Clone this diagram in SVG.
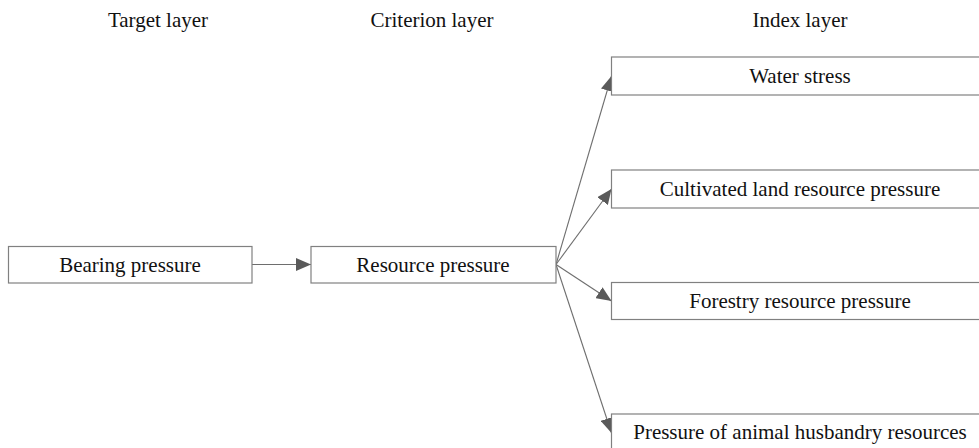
<svg xmlns="http://www.w3.org/2000/svg" width="979" height="448" viewBox="0 0 979 448">
<style>
  .box { fill: #ffffff; stroke: #808080; stroke-width: 1.2; }
  .lbl { font-family: "Liberation Serif", "Times New Roman", serif; font-size: 21px; fill: #111111; text-anchor: middle; }
  .conn { stroke: #6e6e6e; stroke-width: 1.1; fill: none; marker-end: url(#arr); }
</style>
<defs>
  <marker id="arr" markerUnits="userSpaceOnUse" markerWidth="16" markerHeight="13" refX="15" refY="6.5" orient="auto">
    <path d="M0,0 L15,6.5 L0,13 Z" fill="#5a5a5a"/>
  </marker>
</defs>
<rect width="979" height="448" fill="#ffffff"/>
<g id="headers">
  <text class="lbl" x="158" y="27">Target layer</text>
  <text class="lbl" x="432" y="27">Criterion layer</text>
  <text class="lbl" x="800" y="27">Index layer</text>
</g>
<g id="connectors">
  <line class="conn" x1="252" y1="264.5" x2="311" y2="264.5"/>
  <line class="conn" x1="556" y1="264.5" x2="611.5" y2="76"/>
  <line class="conn" x1="556" y1="264.5" x2="611.5" y2="189"/>
  <line class="conn" x1="556" y1="264.5" x2="611.5" y2="301"/>
  <line class="conn" x1="556" y1="264.5" x2="611.5" y2="433"/>
</g>
<g id="bearing">
  <rect class="box" x="8.5" y="246.5" width="243.5" height="36.5"/>
  <text class="lbl" x="130" y="271.5">Bearing pressure</text>
</g>
<g id="resource">
  <rect class="box" x="311" y="246.5" width="245" height="36.5"/>
  <text class="lbl" x="433" y="271.5">Resource pressure</text>
</g>
<g id="water">
  <rect class="box" x="611.5" y="57" width="376" height="38"/>
  <text class="lbl" x="800" y="83">Water stress</text>
</g>
<g id="cultivated">
  <rect class="box" x="611.5" y="170" width="376" height="38"/>
  <text class="lbl" x="800" y="196">Cultivated land resource pressure</text>
</g>
<g id="forestry">
  <rect class="box" x="611.5" y="282.5" width="376" height="37"/>
  <text class="lbl" x="800" y="308">Forestry resource pressure</text>
</g>
<g id="animal">
  <rect class="box" x="611.5" y="414" width="376" height="38"/>
  <text class="lbl" x="800" y="439">Pressure of animal husbandry resources</text>
</g>
</svg>
